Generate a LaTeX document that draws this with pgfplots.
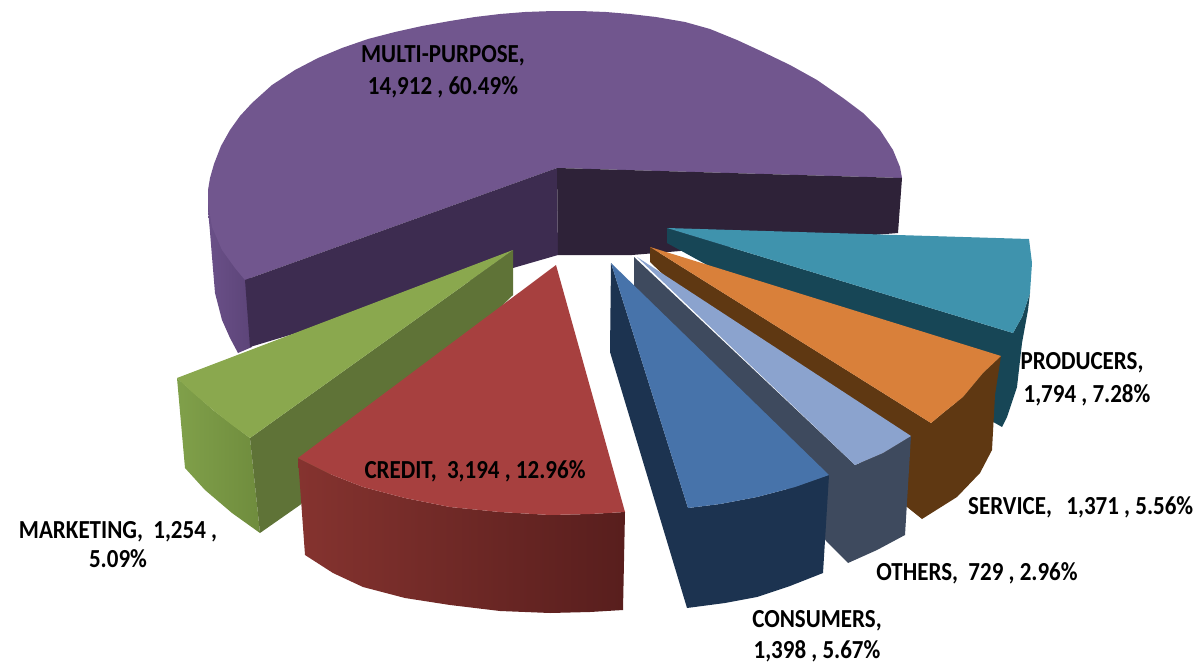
\documentclass[border=0pt]{standalone}
\usepackage{fontspec}
\setmainfont{Carlito}
\usepackage{graphicx}
\usepackage{pgfplots}
\pgfplotsset{compat=1.18}
\definecolor{purpleTop}{HTML}{71568E}
\definecolor{purpleOutL}{HTML}{6A5088}
\definecolor{purpleOutR}{HTML}{5C4478}
\definecolor{purpleInL}{HTML}{3D2C50}
\definecolor{purpleInR}{HTML}{2E2238}
\definecolor{tealTop}{HTML}{3F93AD}
\definecolor{tealWall}{HTML}{174656}
\definecolor{orangeTop}{HTML}{D9803A}
\definecolor{orangeWall}{HTML}{5F3812}
\definecolor{skyTop}{HTML}{8BA3CE}
\definecolor{skyWall}{HTML}{3E4A5E}
\definecolor{blueTop}{HTML}{4773AA}
\definecolor{blueWall}{HTML}{1C3350}
\definecolor{redTop}{HTML}{A7403F}
\definecolor{redOutL}{HTML}{85332F}
\definecolor{redOutR}{HTML}{581E1D}
\definecolor{greenTop}{HTML}{8AA84E}
\definecolor{greenIn}{HTML}{5F7337}
\definecolor{greenOutL}{HTML}{80A04A}
\definecolor{greenOutR}{HTML}{6F8C3D}
\newcommand{\tall}[1]{\scalebox{1}[1.13]{#1}}
\newcommand{\lab}[3]{\node[text=black,font=\fontsize{23}{27}\selectfont\bfseries,align=center] at (axis cs:#1,#2) {\tall{#3}};}
\begin{document}
\begin{tikzpicture}
\clip (0,0) rectangle (1194pt,664pt);
\begin{axis}[
  at={(0,0)},anchor=south west,scale only axis,
  width=1194pt,height=664pt,
  xmin=0,xmax=1194,ymin=0,ymax=664,y dir=reverse,
  axis lines=none,no markers,clip=false,
  every axis plot/.append style={draw=none,line width=0pt}]

% multi-purpose: outer wall, top face, the two cut walls
\addplot[left color=purpleOutL,right color=purpleOutR] coordinates {(208,190)(208,210)(210,232)(212,257)(215,293)(222,320)(230,338)(238,353)(252,347)(250,270)} -- cycle;
\addplot[fill=purpleTop] coordinates {(557,168)(902,178)(900,167)(893,150)(880,130)(863,113)(843,98)(817,80)(790,65)(763,52)(737,40)(710,29)(685,22)(656,17)(630,14)(606,12)(580,11)(553,11)(525,12)(500,14)(475,17)(450,21)(422,26)(395,32)(368,39)(342,48)(318,58)(295,70)(272,85)(252,103)(240,116)(230,130)(221,146)(214,164)(210,178)(208,190)(208,203)(212,227)(222,250)(235,268)(245,280)} -- cycle;
\addplot[fill=purpleInL] coordinates {(557,168)(245,280)(250,347)(513,268)(558,255)} -- cycle;
\addplot[fill=purpleInR] coordinates {(557,168)(902,178)(898,233)(632,255)(558,255)} -- cycle;

% producers
\addplot[fill=tealWall] coordinates {(667,228)(667,243)(995,423)(1002,427)(1007,417)(1017,387)(1022,343)(1028,310)(1030,293)(1022,317)(1013,333)} -- cycle;
\addplot[fill=tealTop] coordinates {(667,228)(1029,239)(1032,263)(1030,293)(1022,317)(1013,333)} -- cycle;

% service
\addplot[fill=orangeWall] coordinates {(650,247)(650,262)(907,507)(922,519)(957,497)(980,473)(992,450)(995,395)(1001,356)(983,373)(963,397)(943,413)(931,423)} -- cycle;
\addplot[fill=orangeTop] coordinates {(650,247)(1001,356)(983,373)(963,397)(943,413)(931,423)} -- cycle;

% others
\addplot[fill=skyWall] coordinates {(634,257)(634,290)(827,542)(848,563)(877,550)(905,535)(911,436)(883,453)(855,465)} -- cycle;
\addplot[fill=skyTop] coordinates {(637,257)(911,436)(883,453)(855,465)} -- cycle;

% consumers
\addplot[fill=blueWall] coordinates {(611,263)(610,352)(687,608)(725,603)(757,597)(790,586)(823,573)(829,475)(795,487)(757,497)(720,504)(688,508)} -- cycle;
\addplot[fill=blueTop] coordinates {(611,263)(829,475)(795,487)(757,497)(720,504)(688,508)} -- cycle;

% marketing
\addplot[left color=greenOutL,right color=greenOutR] coordinates {(177,378)(185,468)(205,490)(232,513)(260,533)(250,438)(213,410)} -- cycle;
\addplot[fill=greenIn] coordinates {(513,250)(513,295)(300,505)(260,533)(250,438)} -- cycle;
\addplot[fill=greenTop] coordinates {(513,250)(177,378)(192,392)(213,410)(232,425)(250,438)} -- cycle;

% credit
\addplot[left color=redOutL,right color=redOutR] coordinates {(298,458)(305,555)(333,573)(363,587)(405,598)(450,605)(500,611)(550,613)(590,612)(623,610)(625,512)(590,514)(550,515)(500,512)(450,507)(405,498)(363,487)(330,474)} -- cycle;
\addplot[fill=redTop] coordinates {(556,265)(625,512)(590,514)(550,515)(500,512)(450,507)(405,498)(363,487)(330,474)(298,458)} -- cycle;

% data labels
\lab{443}{56}{MULTI-PURPOSE,}
\lab{443}{87}{14,912 , 60.49\%}
\lab{475}{471}{CREDIT,\ \ 3,194 , 12.96\%}
\lab{118}{532}{MARKETING,\ \ 1,254 ,}
\lab{118}{559}{5.09\%}
\lab{1082}{363}{PRODUCERS,}
\lab{1087}{395}{1,794 , 7.28\%}
\node[text=black,font=\fontsize{23}{27}\selectfont\bfseries,anchor=west,inner sep=0pt] at (axis cs:968,507) {\tall{SERVICE,\ \ \hspace{4pt}1,371 , 5.56\%}};
\lab{977}{573}{OTHERS,\ \ 729 , 2.96\%}
\lab{817}{621}{CONSUMERS,}
\lab{817}{651}{1,398 , 5.67\%}
\end{axis}
\end{tikzpicture}
\end{document}
